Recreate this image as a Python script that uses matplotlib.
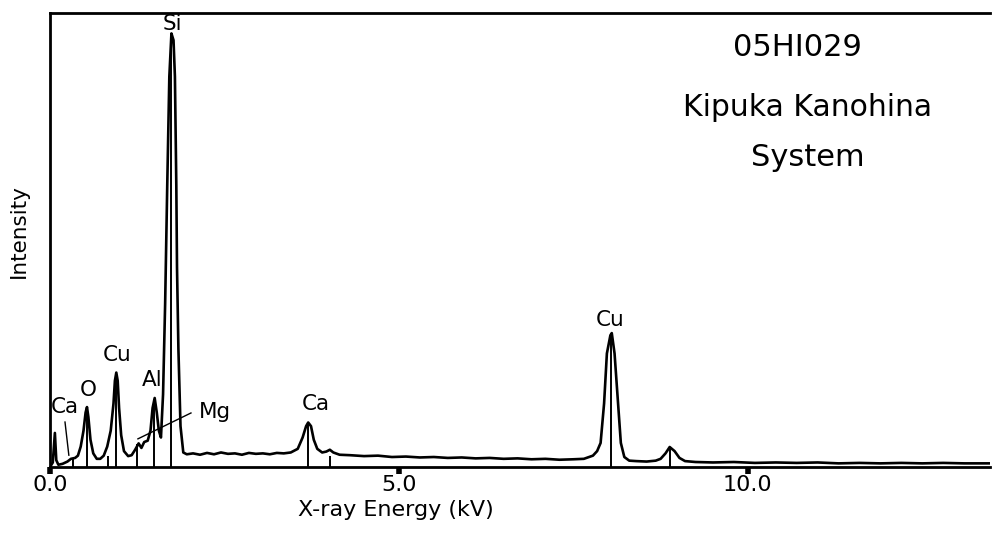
import matplotlib.pyplot as plt

# spectrum: energy (kV) and intensity (% of full scale)
energy = [0.00, 0.04, 0.07, 0.09, 0.12, 0.18, 0.25, 0.30, 0.36, 0.40, 0.44, 0.48, 0.51, 0.53, 0.55,
          0.58, 0.62, 0.67, 0.72, 0.77, 0.82, 0.87, 0.91, 0.93, 0.95, 0.97, 0.99, 1.02, 1.06,
          1.12, 1.17, 1.22, 1.27, 1.31, 1.35, 1.40, 1.44, 1.47, 1.50, 1.53, 1.56, 1.59, 1.62,
          1.65, 1.68, 1.71, 1.74, 1.77, 1.79, 1.81, 1.82, 1.84, 1.87, 1.91, 1.96,
          2.05, 2.15, 2.25, 2.35, 2.45, 2.55, 2.65, 2.75, 2.85, 2.95, 3.05, 3.15, 3.25, 3.35,
          3.45, 3.55, 3.62, 3.67, 3.70, 3.74, 3.78, 3.83, 3.90, 3.96, 4.01, 4.06, 4.15,
          4.30, 4.50, 4.70, 4.90, 5.10, 5.30, 5.50, 5.70, 5.90, 6.10, 6.30, 6.50, 6.70, 6.90,
          7.10, 7.30, 7.50, 7.65, 7.78, 7.84, 7.89, 7.94, 7.98, 8.03, 8.05, 8.09, 8.14, 8.18,
          8.23, 8.30, 8.40, 8.55, 8.68, 8.75, 8.82, 8.88, 8.95, 9.02, 9.10, 9.25,
          9.50, 9.80, 10.10, 10.40, 10.70, 11.00, 11.30, 11.60, 11.90, 12.20, 12.50, 12.80,
          13.10, 13.47]
intensity = [0.0, 1.0, 7.5, 1.5, 0.5, 0.7, 1.2, 1.8, 2.0, 2.5, 4.5, 8.0, 12.0, 13.2, 11.0,
             6.0, 3.0, 1.8, 1.8, 2.5, 4.5, 8.0, 14.0, 19.0, 20.8, 19.0, 13.0, 7.0, 3.5,
             2.4, 2.6, 3.8, 5.2, 4.2, 5.5, 5.8, 8.0, 13.0, 15.2, 12.0, 8.0, 6.5, 16.0,
             36.0, 62.0, 86.0, 95.5, 94.0, 86.0, 62.0, 44.0, 26.0, 9.0, 3.2, 2.8,
             3.0, 2.7, 3.1, 2.8, 3.2, 2.9, 3.0, 2.7, 3.1, 2.9, 3.0, 2.8, 3.1, 3.0,
             3.2, 4.0, 6.5, 9.0, 9.8, 9.0, 6.0, 4.0, 3.2, 3.4, 3.8, 3.2, 2.7,
             2.6, 2.4, 2.5, 2.2, 2.3, 2.1, 2.2, 2.0, 2.1, 1.9, 2.0, 1.8, 1.9, 1.7,
             1.8, 1.6, 1.7, 1.8, 2.5, 3.5, 5.3, 14.0, 25.0, 29.0, 29.5, 25.0, 14.0, 5.3,
             2.2, 1.4, 1.3, 1.2, 1.4, 1.8, 3.0, 4.4, 3.5, 2.0, 1.3, 1.1,
             1.0, 1.1, 0.9, 1.0, 0.9, 1.0, 0.8, 0.9, 0.8, 0.9, 0.8, 0.9,
             0.8, 0.8]

# KLM marker lines
marker_kv = [0.33, 0.525, 0.83, 0.94, 1.25, 1.49, 1.74, 3.69, 4.01, 8.04, 8.89]
marker_height = [2.0, 13.0, 2.5, 20.5, 5.0, 15.0, 95.0, 9.5, 2.5, 29.0, 4.3]

# element labels
labels = ['Ca', 'O', 'Cu', 'Al', 'Si', 'Ca', 'Cu']
label_kv = [0.215, 0.545, 0.96, 1.46, 1.75, 3.81, 8.02]
label_int = [13.2, 17.0, 24.7, 19.2, 97.5, 13.9, 32.4]

fig = plt.figure(figsize=(9.93, 5.33), dpi=100)
ax = fig.add_axes([50 / 993, 1 - 467 / 533, 940 / 993, 454 / 533])

ax.vlines(marker_kv, 0, marker_height, color='black', linewidth=1.4)
ax.plot(energy, intensity, color='black', linewidth=1.9)

for lab, x, y in zip(labels, label_kv, label_int):
    ax.text(x, y, lab, fontsize=15.5, ha='center', va='center')

# Ca (L) and Mg leader lines
ax.plot([0.215, 0.27], [9.9, 2.6], color='black', linewidth=1)
ax.plot([2.02, 1.26], [11.9, 6.2], color='black', linewidth=1)
ax.text(2.36, 12.1, 'Mg', fontsize=15.5, ha='center', va='center')

ax.text(0.795, 0.923, '05HI029', transform=ax.transAxes, fontsize=22, ha='center', va='center')
ax.text(0.806, 0.791, 'Kipuka Kanohina', transform=ax.transAxes, fontsize=21.5, ha='center', va='center')
ax.text(0.806, 0.681, 'System', transform=ax.transAxes, fontsize=22, ha='center', va='center')

ax.set_xlim(0, 13.47)
ax.set_ylim(0, 100)
ax.set_xticks([0, 5, 10])
ax.set_xticklabels(['0.0', '5.0', '10.0'], fontsize=16)
ax.set_yticks([])
ax.tick_params(axis='x', direction='out', length=5, width=4, pad=1)
ax.set_xlabel('X-ray Energy (kV)', fontsize=16)
ax.xaxis.set_label_coords(0.368, -0.072)
ax.set_ylabel('Intensity', fontsize=15.5)
ax.yaxis.set_label_coords(-0.022, 0.52)
for side in ['left', 'top', 'bottom']:
    ax.spines[side].set_linewidth(2)
ax.spines['right'].set_visible(False)

fig.savefig('out.png', dpi=100)
